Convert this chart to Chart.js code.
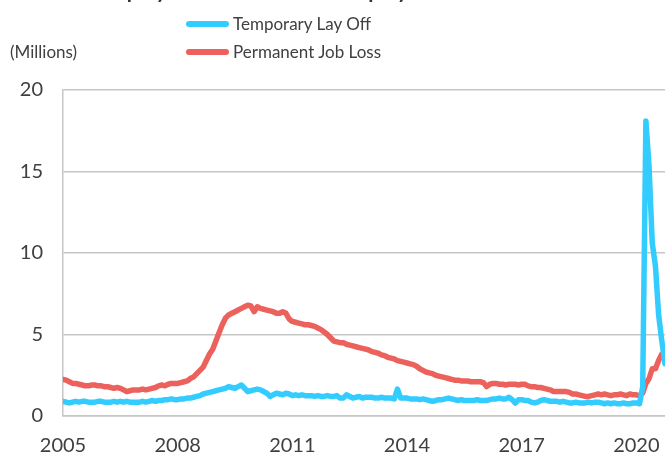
<!DOCTYPE html>
<html>
<head>
<meta charset="utf-8">
<script src="https://cdn.jsdelivr.net/npm/chart.js@4"></script>
<style>
  body { margin: 0; background: #fff; }
  #wrap { position: relative; width: 665px; height: 452px; overflow: hidden; font-family: Lato, sans-serif; color: #404040; }
  #chart { position: absolute; left: 0; top: 0; }
  .title { position: absolute; left: 0; width: 590px; top: -23px; text-align: center; font-weight: bold; font-size: 21px; color: #333; }
  .unit { position: absolute; left: 10px; top: 41px; font-size: 17px; }
  .key { position: absolute; left: 186px; width: 43px; height: 6px; border-radius: 3px; }
  .keytxt { position: absolute; left: 233px; font-size: 17px; line-height: 22px; }
</style>
</head>
<body>
<div id="wrap">
  <canvas id="chart" width="665" height="452"></canvas>
  <div class="title">Unemployed on Leave vs. Unemployed for Good</div>
  <div class="unit">(Millions)</div>
  <div class="key" style="top:21px;background:#33ccff"></div>
  <div class="keytxt" style="top:13px">Temporary Lay Off</div>
  <div class="key" style="top:49px;background:#ec615b"></div>
  <div class="keytxt" style="top:41px">Permanent Job Loss</div>
</div>
<script>
// monthly, Jan 2005 .. Oct 2020 (millions)
const startYear = 2005;
const yearTicks = [2005, 2008, 2011, 2014, 2017, 2020];
const valueTicks = [0, 5, 10, 15, 20];

const temporaryLayOff = [
  0.9, 0.85, 0.8, 0.85, 0.9, 0.85, 0.9, 0.9, 0.85, 0.85, 0.85, 0.9,
  0.9, 0.85, 0.85, 0.85, 0.9, 0.85, 0.9, 0.85, 0.9, 0.85, 0.85, 0.85,
  0.85, 0.9, 0.85, 0.9, 0.95, 0.9, 0.95, 0.95, 1.0, 1.0, 1.05, 1.0,
  1.0, 1.05, 1.05, 1.1, 1.1, 1.15, 1.2, 1.25, 1.35, 1.4, 1.45, 1.5,
  1.55, 1.6, 1.65, 1.7, 1.8, 1.75, 1.7, 1.8, 1.9, 1.7, 1.5, 1.55,
  1.6, 1.65, 1.6, 1.5, 1.4, 1.2, 1.3, 1.4, 1.35, 1.3, 1.4, 1.35,
  1.25, 1.3, 1.25, 1.3, 1.25, 1.25, 1.25, 1.2, 1.25, 1.2, 1.2, 1.25,
  1.2, 1.2, 1.25, 1.1, 1.1, 1.3, 1.2, 1.1, 1.15, 1.2, 1.1, 1.15,
  1.15, 1.15, 1.1, 1.1, 1.15, 1.1, 1.1, 1.1, 1.05, 1.65, 1.1, 1.1,
  1.1, 1.05, 1.05, 1.05, 1.0, 1.05, 1.0, 0.95, 0.9, 0.95, 1.0, 1.0,
  1.05, 1.1, 1.05, 1.0, 0.95, 1.0, 0.95, 0.95, 0.95, 0.95, 1.0, 0.95,
  0.95, 0.95, 1.0, 1.05, 1.05, 1.1, 1.05, 1.05, 1.15, 1.0, 0.8, 1.0,
  1.0, 0.95, 0.95, 0.85, 0.8, 0.85, 0.95, 1.0, 0.95, 0.9, 0.9, 0.9,
  0.85, 0.9, 0.85, 0.8, 0.8, 0.85, 0.8, 0.8, 0.8, 0.85, 0.8, 0.85,
  0.85, 0.8, 0.75, 0.8, 0.75, 0.8, 0.75, 0.75, 0.8, 0.75, 0.75, 0.8,
  0.8, 0.75, 1.8, 18.1, 15.3, 10.6, 9.2, 6.2, 4.6, 3.2
];

const permanentJobLoss = [
  2.25, 2.2, 2.1, 2.0, 2.0, 1.95, 1.9, 1.85, 1.85, 1.9, 1.9, 1.85,
  1.85, 1.8, 1.8, 1.75, 1.7, 1.75, 1.7, 1.6, 1.5, 1.55, 1.6, 1.6,
  1.6, 1.65, 1.6, 1.65, 1.7, 1.75, 1.85, 1.9, 1.85, 1.95, 2.0, 2.0,
  2.0, 2.05, 2.1, 2.15, 2.3, 2.4, 2.6, 2.8, 3.0, 3.4, 3.8, 4.1,
  4.6, 5.1, 5.6, 6.0, 6.2, 6.3, 6.4, 6.5, 6.6, 6.7, 6.8, 6.75,
  6.4, 6.7, 6.6, 6.55, 6.5, 6.45, 6.4, 6.3, 6.3, 6.4, 6.3, 5.95,
  5.8, 5.75, 5.7, 5.65, 5.6, 5.6, 5.55, 5.5, 5.4, 5.3, 5.15, 5.0,
  4.8, 4.6, 4.55, 4.5, 4.5, 4.4, 4.35, 4.3, 4.25, 4.2, 4.15, 4.1,
  4.05, 3.95, 3.9, 3.85, 3.75, 3.7, 3.6, 3.55, 3.5, 3.4, 3.35, 3.3,
  3.25, 3.2, 3.15, 3.05, 2.9, 2.8, 2.7, 2.65, 2.6, 2.5, 2.45, 2.4,
  2.35, 2.3, 2.25, 2.2, 2.2, 2.15, 2.15, 2.15, 2.1, 2.1, 2.1, 2.1,
  2.05, 1.8, 1.95, 2.0, 2.0, 1.95, 1.95, 1.9, 1.95, 1.95, 1.95, 1.9,
  1.95, 1.95, 1.85, 1.8, 1.8, 1.75, 1.75, 1.7, 1.65, 1.6, 1.5, 1.5,
  1.5, 1.5, 1.5, 1.45, 1.35, 1.35, 1.3, 1.25, 1.2, 1.2, 1.25, 1.3,
  1.35, 1.3, 1.35, 1.3, 1.25, 1.3, 1.3, 1.35, 1.3, 1.25, 1.35, 1.3,
  1.3, 1.25, 1.4, 2.0, 2.3, 2.9, 2.9, 3.4, 3.8, 3.7
];

const toPoints = arr => arr.map((v, i) => ({ x: i, y: v }));

new Chart(document.getElementById("chart"), {
  type: "line",
  data: {
    datasets: [{
      label: "Temporary Lay Off",
      data: toPoints(temporaryLayOff),
      borderColor: "#33ccff",
      borderWidth: 5.5
    }, {
      label: "Permanent Job Loss",
      data: toPoints(permanentJobLoss),
      borderColor: "#ec615b",
      borderWidth: 5.5
    }]
  },
  options: {
    responsive: false,
    animation: false,
    layout: { padding: { top: 90, left: 0, right: 0, bottom: 0 } },
    elements: {
      point: { radius: 0 },
      line: { tension: 0, borderCapStyle: "round", borderJoinStyle: "round" }
    },
    plugins: { legend: { display: false }, tooltip: { enabled: false } },
    scales: {
      x: {
        type: "linear",
        min: 0,
        max: temporaryLayOff.length - 1,
        grid: { display: false },
        border: { display: true, color: "#c6c6c6", width: 1.5 },
        afterBuildTicks: s => { s.ticks = yearTicks.map(y => ({ value: (y - startYear) * 12 })); },
        afterFit: s => { s.height = 36; s.paddingLeft = 0; s.paddingRight = 0; },
        ticks: {
          autoSkip: false,
          maxRotation: 0,
          padding: 10,
          color: "#404040",
          font: { family: "Lato", size: 20 },
          callback: v => startYear + v / 12
        }
      },
      y: {
        min: 0,
        max: 20,
        afterBuildTicks: s => { s.ticks = valueTicks.map(v => ({ value: v })); },
        afterFit: s => { s.width = 63; },
        grid: { color: "#c6c6c6", lineWidth: 1.5, drawTicks: false },
        border: { display: true, color: "#c6c6c6", width: 1.5 },
        ticks: {
          padding: 20,
          color: "#404040",
          font: { family: "Lato", size: 20 }
        }
      }
    }
  }
});
</script>
</body>
</html>
